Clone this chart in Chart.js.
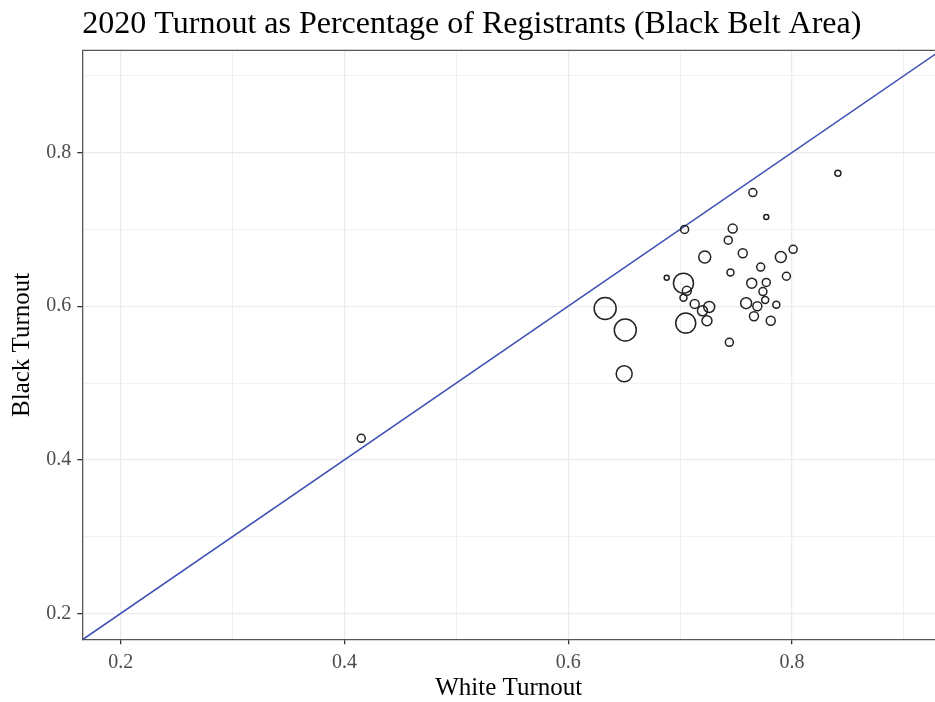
<!DOCTYPE html>
<html>
<head>
<meta charset="utf-8">
<script src="https://cdn.jsdelivr.net/npm/chart.js@4"></script>
<style>
  html, body { margin: 0; padding: 0; background: #fff; }
  #wrap { width: 935px; height: 702px; }
</style>
</head>
<body>
<div id="wrap"><canvas id="chart" width="935" height="702"></canvas></div>
<script>
// white / black turnout per county, bubble size ~ number of registrants
const whiteTurnout = [0.841, 0.765, 0.777, 0.704, 0.747, 0.743, 0.801, 0.722, 0.756, 0.790, 0.772, 0.745,
  0.795, 0.688, 0.703, 0.764, 0.777, 0.706, 0.774, 0.703, 0.776, 0.633, 0.713, 0.726, 0.720, 0.759,
  0.769, 0.786, 0.651, 0.705, 0.724, 0.766, 0.781, 0.744, 0.650, 0.415]
const blackTurnout = [0.773, 0.748, 0.716, 0.700, 0.701, 0.686, 0.674, 0.664, 0.669, 0.664, 0.651, 0.644,
  0.639, 0.637, 0.630, 0.630, 0.631, 0.620, 0.619, 0.611, 0.608, 0.597, 0.603, 0.599, 0.594, 0.604,
  0.600, 0.602, 0.569, 0.578, 0.581, 0.587, 0.581, 0.553, 0.512, 0.428]
const registrantSize = [3, 4, 2.5, 4, 4.5, 4, 4, 6, 4.5, 5.5, 4, 3.5,
  4, 2.5, 10, 5, 4, 4.5, 4, 3.5, 3.5, 11, 4.5, 5.5, 5, 5.5,
  4.5, 3.5, 11, 10, 5, 4.5, 4.5, 4, 8, 4]

// y = x reference line
const parityLine = [0.1, 1.0]

const xTickLabels = ['0.2', '0.4', '0.6', '0.8']
const yTickLabels = ['0.2', '0.4', '0.6', '0.8']

const serif = '"Liberation Serif", "DejaVu Serif", serif'

const isMajor = (v, labels) => labels.includes((Math.round(v * 10) / 10).toFixed(1))

const panelBorder = {
  id: 'panelBorder',
  afterDatasetsDraw (chart) {
    const { ctx, chartArea } = chart
    ctx.save()
    ctx.strokeStyle = '#555'
    ctx.lineWidth = 1.3
    ctx.beginPath()
    ctx.moveTo(chartArea.left, chartArea.top)
    ctx.lineTo(chartArea.right, chartArea.top)
    ctx.stroke()
    ctx.restore()
  }
}

function axis (labels, min, max, fit, title) {
  return {
    type: 'linear',
    min: min,
    max: max,
    afterFit: fit,
    border: { display: true, color: '#555', width: 1.3 },
    grid: {
      color: '#EBEBEB',
      lineWidth: ctx => isMajor(ctx.tick.value, labels) ? 1.3 : 0.7,
      tickColor: ctx => isMajor(ctx.tick.value, labels) ? '#333' : 'rgba(0,0,0,0)',
      tickWidth: 1.3,
      tickLength: 5
    },
    ticks: {
      stepSize: 0.1,
      includeBounds: false,
      autoSkip: false,
      maxRotation: 0,
      padding: 6,
      color: '#4D4D4D',
      font: { family: serif, size: 20 },
      callback: v => isMajor(v, labels) ? v.toFixed(1) : ''
    },
    title: title
  }
}

new Chart(document.getElementById('chart'), {
  type: 'bubble',
  data: {
    datasets: [{
      data: whiteTurnout.map((w, i) => ({ x: w, y: blackTurnout[i], r: registrantSize[i] })),
      backgroundColor: 'rgba(0,0,0,0)',
      borderColor: '#222',
      borderWidth: 1.5
    }, {
      type: 'line',
      data: parityLine.map(v => ({ x: v, y: v })),
      borderColor: '#3F51B5',
      borderWidth: 1.6,
      pointRadius: 0,
      fill: false
    }]
  },
  plugins: [panelBorder],
  options: {
    responsive: false,
    animation: false,
    devicePixelRatio: 1,
    events: [],
    layout: { padding: 0, autoPadding: false },
    plugins: {
      legend: { display: false },
      tooltip: { enabled: false },
      title: {
        display: true,
        text: '2020 Turnout as Percentage of Registrants (Black Belt Area)',
        align: 'start',
        fullSize: false,
        color: '#000',
        font: { family: serif, size: 32, weight: 'normal' },
        padding: { top: 5, bottom: 7 }
      }
    },
    scales: {
      x: axis(xTickLabels, 0.1657, 0.9278, s => { s.height = 62.7 }, {
        display: true,
        text: 'White Turnout',
        color: '#000',
        font: { family: serif, size: 25, lineHeight: 1 },
        padding: { top: 0, bottom: 1.5 }
      }),
      y: axis(yTickLabels, 0.1664, 0.933, s => { s.width = 82.3 }, {
        display: true,
        text: 'Black Turnout',
        color: '#000',
        font: { family: serif, size: 25, lineHeight: 1 },
        padding: { top: 9.5, bottom: 0 }
      })
    }
  }
})
</script>
</body>
</html>
